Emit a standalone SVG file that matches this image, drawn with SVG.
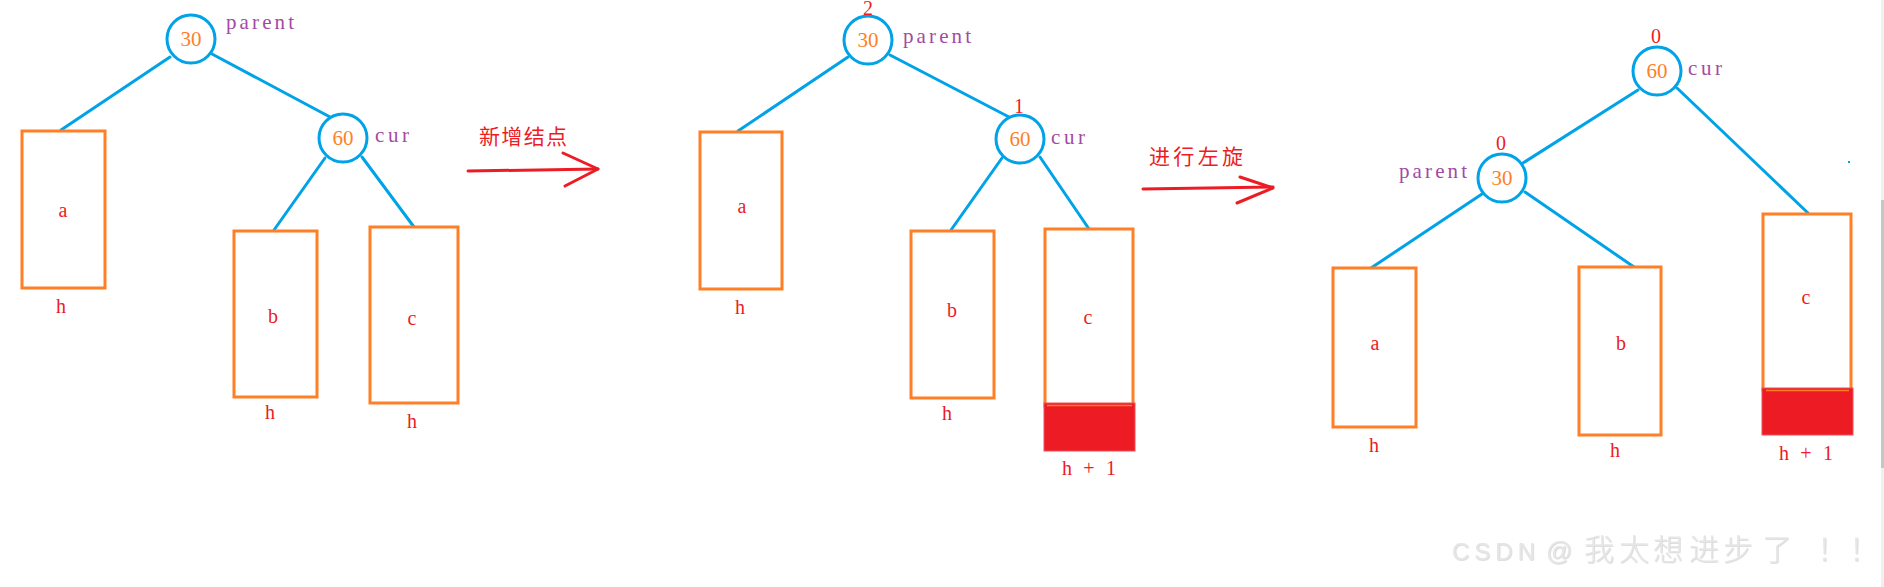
<svg xmlns="http://www.w3.org/2000/svg" width="1884" height="587" viewBox="0 0 1884 587">
<defs>
<style>
.edge{stroke:#00A2E8;stroke-width:3;fill:none;stroke-linecap:round}
.circ{stroke:#00A2E8;stroke-width:3;fill:#fff}
.box{stroke:#FF7F27;stroke-width:3;fill:#fff}
.grow{fill:#ED1C24;stroke:#F0505A;stroke-width:1}
.seam{stroke:#FF7F27;stroke-width:1.5}
.key{font-family:"Liberation Serif",serif;font-size:21px;fill:#FF7F27;text-anchor:middle}
.ptr{font-family:"Liberation Serif",serif;font-size:21px;fill:#A349A4}
.lbl{font-family:"Liberation Serif",serif;font-size:20px;fill:#ED1C24;text-anchor:middle}
.bf{font-family:"Liberation Serif",serif;font-size:20px;fill:#ED1C24;text-anchor:middle}
.arr{stroke:#ED1C24;stroke-width:3;fill:none;stroke-linecap:round;stroke-linejoin:round}
.cn{font-family:"Noto Sans CJK SC",sans-serif;font-size:21px;fill:#ED1C24}
.wm{font-family:"Liberation Sans","Noto Sans CJK SC",sans-serif;font-weight:300;fill:#e6e6e6;filter:url(#emb)}
</style>
<filter id="emb" x="-5%" y="-30%" width="110%" height="160%">
<feDropShadow dx="0.6" dy="0.6" stdDeviation="0.3" flood-color="#a0a0a0" flood-opacity="0.55"/>
</filter>
</defs>
<rect x="0" y="0" width="1884" height="587" fill="#fff"/>

<g id="connectors">
<line class="edge" x1="170" y1="57" x2="61" y2="130"/>
<line class="edge" x1="212" y1="54" x2="330" y2="117"/>
<line class="edge" x1="325" y1="158" x2="274" y2="230"/>
<line class="edge" x1="362" y1="157" x2="414" y2="227"/>
<line class="edge" x1="848" y1="57" x2="738" y2="131"/>
<line class="edge" x1="890" y1="55" x2="1009" y2="117"/>
<line class="edge" x1="1002" y1="158" x2="951" y2="230"/>
<line class="edge" x1="1040" y1="157" x2="1089" y2="229"/>
<line class="edge" x1="1523" y1="163" x2="1638" y2="90"/>
<line class="edge" x1="1677" y1="88" x2="1808" y2="213"/>
<line class="edge" x1="1482" y1="194" x2="1371" y2="268"/>
<line class="edge" x1="1525" y1="192" x2="1634" y2="267"/>
</g>

<!-- Panel 1 -->
<g id="p1-n30">
<circle class="circ" cx="191" cy="39" r="24"/>
<text class="key" x="191" y="46">30</text>
<text class="ptr" x="226" y="29" textLength="68" lengthAdjust="spacing">parent</text>
</g>
<g id="p1-n60">
<circle class="circ" cx="343" cy="138" r="24"/>
<text class="key" x="343" y="145">60</text>
<text class="ptr" x="375" y="142" textLength="34" lengthAdjust="spacing">cur</text>
</g>
<g id="p1-a">
<rect class="box" x="22" y="131" width="83" height="157"/>
<text class="lbl" x="63" y="217">a</text>
<text class="lbl" x="61" y="313">h</text>
</g>
<g id="p1-b">
<rect class="box" x="234" y="231" width="83" height="166"/>
<text class="lbl" x="273" y="323">b</text>
<text class="lbl" x="270" y="419">h</text>
</g>
<g id="p1-c">
<rect class="box" x="370" y="227" width="88" height="176"/>
<text class="lbl" x="412" y="325">c</text>
<text class="lbl" x="412" y="428">h</text>
</g>

<g id="arrow1">
<text class="cn" x="479" y="144" textLength="88" lengthAdjust="spacing">新增结点</text>
<line class="arr" x1="468" y1="171" x2="598" y2="169"/>
<polyline class="arr" points="563,153 598,169 565,186"/>
</g>

<!-- Panel 2 -->
<g id="p2-n30">
<circle class="circ" cx="868" cy="40" r="24"/>
<text class="key" x="868" y="47">30</text>
<text class="bf" x="868" y="15" font-size="18">2</text>
<text class="ptr" x="903" y="43" textLength="68" lengthAdjust="spacing">parent</text>
</g>
<g id="p2-n60">
<circle class="circ" cx="1020" cy="139" r="24"/>
<text class="key" x="1020" y="146">60</text>
<text class="bf" x="1019" y="113">1</text>
<text class="ptr" x="1051" y="144" textLength="34" lengthAdjust="spacing">cur</text>
</g>
<g id="p2-a">
<rect class="box" x="700" y="132" width="82" height="157"/>
<text class="lbl" x="742" y="213">a</text>
<text class="lbl" x="740" y="314">h</text>
</g>
<g id="p2-b">
<rect class="box" x="911" y="231" width="83" height="167"/>
<text class="lbl" x="952" y="317">b</text>
<text class="lbl" x="947" y="420">h</text>
</g>
<g id="p2-c">
<rect class="box" x="1045" y="229" width="88" height="177"/>
<rect class="grow" x="1044" y="403" width="91" height="48"/>
<line class="seam" x1="1047" y1="405.5" x2="1132" y2="405.5"/>
<text class="lbl" x="1088" y="324">c</text>
<text class="lbl" x="1089" y="475" textLength="54" lengthAdjust="spacing">h + 1</text>
</g>

<g id="arrow2">
<text class="cn" x="1149" y="164" font-size="22" textLength="94" lengthAdjust="spacing">进行左旋</text>
<line class="arr" x1="1143" y1="189" x2="1273" y2="187"/>
<polyline class="arr" points="1240,177 1273,188 1237,203"/>
</g>

<!-- Panel 3 -->
<g id="p3-n60">
<circle class="circ" cx="1657" cy="71" r="24"/>
<text class="key" x="1657" y="78">60</text>
<text class="bf" x="1656" y="43">0</text>
<text class="ptr" x="1688" y="75" textLength="34" lengthAdjust="spacing">cur</text>
</g>
<g id="p3-n30">
<circle class="circ" cx="1502" cy="178" r="24"/>
<text class="key" x="1502" y="185">30</text>
<text class="bf" x="1501" y="150">0</text>
<text class="ptr" x="1399" y="178" textLength="68" lengthAdjust="spacing">parent</text>
</g>
<g id="p3-a">
<rect class="box" x="1333" y="268" width="83" height="159"/>
<text class="lbl" x="1375" y="350">a</text>
<text class="lbl" x="1374" y="452">h</text>
</g>
<g id="p3-b">
<rect class="box" x="1579" y="267" width="82" height="168"/>
<text class="lbl" x="1621" y="350">b</text>
<text class="lbl" x="1615" y="457">h</text>
</g>
<g id="p3-c">
<rect class="box" x="1763" y="214" width="88" height="176"/>
<rect class="grow" x="1762" y="388" width="91" height="47"/>
<line class="seam" x1="1766" y1="390.5" x2="1849" y2="390.5"/>
<text class="lbl" x="1806" y="304">c</text>
<text class="lbl" x="1806" y="460" textLength="54" lengthAdjust="spacing">h + 1</text>
</g>
<rect x="1848" y="161" width="2" height="2" fill="#00A2E8"/>

<!-- scrollbar -->
<rect x="1881" y="0" width="3" height="587" fill="#f0f0f0"/>
<rect x="1881" y="200" width="3" height="268" fill="#c6c6c6"/>

<!-- watermark -->
<text class="wm" y="560"><tspan x="1452" font-size="24" textLength="83" lengthAdjust="spacing">CSDN</tspan><tspan x="1546" font-size="26">@</tspan><tspan x="1584 1619 1653 1689 1723 1762" font-size="30" font-family="Noto Sans CJK SC, sans-serif">我太想进步了</tspan><tspan x="1817 1849" font-size="30" font-family="Noto Sans CJK SC, sans-serif">！！</tspan></text>
</svg>
